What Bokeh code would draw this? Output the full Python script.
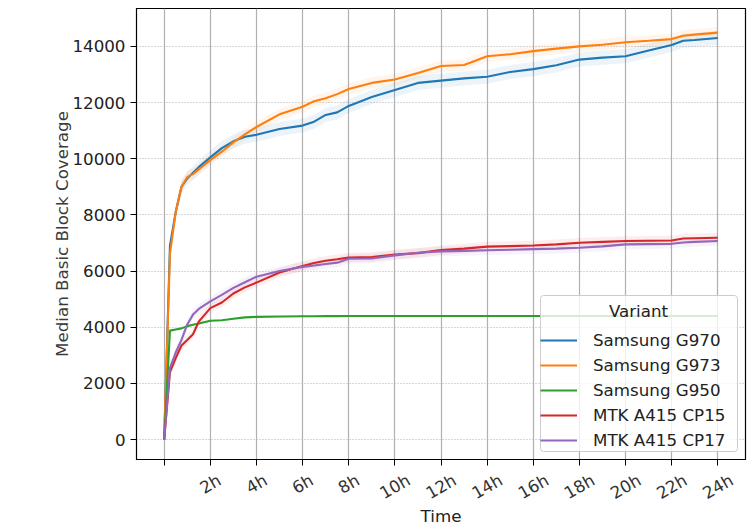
import numpy as np
from math import pi, cos
from bokeh.plotting import figure
from bokeh.models import (Range1d, FixedTicker, Legend, LegendItem, Label,
                          LinearAxis, BoxAnnotation)
from bokeh.embed import file_html
from bokeh.resources import INLINE

# ---- data (hours since start, median basic block coverage) ----
hours = [0, 0.25, 0.5, 0.75, 1, 1.25, 1.5, 2, 2.5, 3, 3.5, 4, 5, 6, 6.5, 7, 7.5, 8,
         9, 10, 11, 12, 13, 14, 15, 16, 17, 18, 19, 20, 21, 22, 22.5, 23, 24]

samsung_g970 = [0, 6900, 8100, 9000, 9300, 9500, 9700, 10050, 10380, 10620, 10780, 10850,
                11060, 11180, 11320, 11560, 11650, 11880, 12200, 12450, 12700, 12780,
                12860, 12920, 13090, 13190, 13330, 13530, 13600, 13650, 13850, 14050,
                14200, 14230, 14300]
samsung_g973 = [0, 6600, 8100, 9000, 9350, 9450, 9620, 9950, 10250, 10580, 10870, 11130,
                11580, 11850, 12050, 12150, 12300, 12480, 12700, 12820, 13050, 13300,
                13340, 13650, 13720, 13830, 13920, 14000, 14060, 14150, 14200, 14260,
                14380, 14420, 14490]
samsung_g950 = [0, 3880, 3920, 3960, 4040, 4090, 4130, 4230, 4250, 4300, 4350, 4370,
                4380, 4390, 4390, 4395, 4395, 4400, 4400, 4400, 4400, 4400, 4400, 4400,
                4400, 4400, 4400, 4400, 4400, 4400, 4400, 4400, 4400, 4400, 4400]
mtk_cp15 = [0, 2400, 2900, 3350, 3550, 3750, 4200, 4680, 4880, 5200, 5420, 5590,
            5950, 6180, 6290, 6370, 6420, 6480, 6500, 6590, 6640, 6750, 6800, 6870,
            6890, 6910, 6950, 7010, 7040, 7070, 7080, 7090, 7160, 7170, 7185]
mtk_cp17 = [0, 2550, 3100, 3550, 4100, 4450, 4650, 4920, 5150, 5400, 5600, 5800,
            6000, 6150, 6200, 6250, 6300, 6440, 6450, 6560, 6650, 6700, 6720, 6740,
            6760, 6780, 6800, 6830, 6880, 6950, 6960, 6970, 7020, 7040, 7070]

variants = ["Samsung G970", "Samsung G973", "Samsung G950", "MTK A415 CP15", "MTK A415 CP17"]
series = [samsung_g970, samsung_g973, samsung_g950, mtk_cp15, mtk_cp17]
band_halfwidth = [250, 200, 30, 170, 170]   # confidence band half-width per variant
colors = ["#1f77b4", "#ff7f0e", "#2ca02c", "#d62728", "#9467bd"]

x_ticks = [0, 2, 4, 6, 8, 10, 12, 14, 16, 18, 20, 22, 24]
x_tick_labels = ["", "2h", "4h", "6h", "8h", "10h", "12h", "14h", "16h", "18h", "20h", "22h", "24h"]
y_ticks = [0, 2000, 4000, 6000, 8000, 10000, 12000, 14000]

FONT = "DejaVu Sans"
FS_PX = 16.7
FS = f"{FS_PX}px"
X0, X1 = -1.2, 25.2
FRAME_W = 609

p = figure(width=750, height=528, output_backend="svg", toolbar_location=None,
           x_range=Range1d(X0, X1), y_range=Range1d(-709, 15349),
           min_border_left=136, min_border_right=5, min_border_top=8,
           min_border_bottom=67)
p.background_fill_color = "white"
p.border_fill_color = "white"
p.outline_line_color = "black"
p.outline_line_width = 1.2

# grids
p.xgrid.grid_line_color = "#b0b0b0"
p.xgrid.grid_line_width = 1.2
p.ygrid.grid_line_color = "#b0b0b0"
p.ygrid.grid_line_width = 1.2
p.ygrid.grid_line_dash = "1 2"

# axes
p.xaxis.ticker = FixedTicker(ticks=x_ticks)
p.yaxis.ticker = FixedTicker(ticks=y_ticks)
for ax in (p.xaxis[0], p.yaxis[0]):
    ax.axis_line_color = "black"
    ax.major_tick_line_color = "black"
    ax.major_tick_out = 6
    ax.major_tick_in = 0
    ax.minor_tick_out = 0
    ax.minor_tick_in = 0
    ax.axis_label_text_font = FONT
    ax.axis_label_text_font_size = FS
    ax.axis_label_text_font_style = "normal"
    ax.major_label_text_font = FONT
    ax.major_label_text_font_size = FS
p.yaxis.axis_label = "Median Basic Block Coverage"
p.yaxis.axis_label_text_color = "#3a3a3a"
p.yaxis.major_label_text_color = "#222222"
p.yaxis.major_label_standoff = 5
p.yaxis.axis_label_standoff = -3
p.xaxis.major_label_text_font_size = "0px"
p.xaxis.major_label_overrides = {t: "" for t in x_ticks}
p.xaxis.major_label_standoff = 0

# second axis carrying the rotated labels; Bokeh right-aligns rotated labels, so the
# anchor is moved right by half the rotated text width to centre each label on its tick
px_per_unit = FRAME_W / (X1 - X0)
lab_pos, overrides = [], {}
for t, lab in zip(x_ticks, x_tick_labels):
    if lab:
        w = len(lab) * 0.635 * FS_PX
        pos = round(t + (w * cos(pi / 6) / 2) / px_per_unit, 4)
        lab_pos.append(pos)
        overrides[pos] = lab
lab_axis = LinearAxis(ticker=FixedTicker(ticks=lab_pos), major_label_overrides=overrides,
                      major_label_orientation=pi / 6, axis_line_color=None,
                      major_tick_line_color=None, major_tick_out=0, major_tick_in=0,
                      minor_tick_out=0, minor_tick_in=0, major_label_standoff=13,
                      major_label_text_font=FONT, major_label_text_font_size=FS,
                      major_label_text_color="#333333",
                      axis_label="Time", axis_label_text_font=FONT,
                      axis_label_text_font_size=FS, axis_label_text_font_style="normal",
                      axis_label_text_color="#222222", axis_label_standoff=-9)
p.add_layout(lab_axis, "below")

# bands and lines
hx = np.array(hours, dtype=float)
items = []
for name, vals, hw, c in zip(variants, series, band_halfwidth, colors):
    v = np.array(vals, dtype=float)
    w = np.where(v > 0, hw, 0.0)
    p.varea(x=hx, y1=v - w, y2=v + w, fill_color=c, fill_alpha=0.08)
for name, vals, hw, c in zip(variants, series, band_halfwidth, colors):
    r = p.line(hours, vals, line_color=c, line_width=2.1)
    items.append(LegendItem(label=name, renderers=[r]))

# legend frame drawn separately so the centred title can sit above it
p.add_layout(BoxAnnotation(left=404, right=601, bottom=8, top=164,
                           left_units="screen", right_units="screen",
                           bottom_units="screen", top_units="screen",
                           fill_color="white", fill_alpha=0.8,
                           line_color="#cccccc", line_width=1, line_alpha=1,
                           border_radius=3))
p.add_layout(Label(x=502, y=149, x_units="screen", y_units="screen", text="Variant",
                   text_align="center", text_baseline="middle", text_font=FONT,
                   text_font_size=FS, text_color="#222222"))
legend = Legend(items=items, location=(404, 9), title=" ",
                label_text_font=FONT, label_text_font_size=FS,
                label_text_color="#222222", title_text_font=FONT,
                title_text_font_size=FS, title_standoff=4,
                border_line_color=None, background_fill_alpha=0,
                padding=5, spacing=5, margin=0, glyph_width=37, glyph_height=20,
                label_height=20, label_standoff=16)
p.add_layout(legend)

open("out.html", "w").write(file_html(p, INLINE))
